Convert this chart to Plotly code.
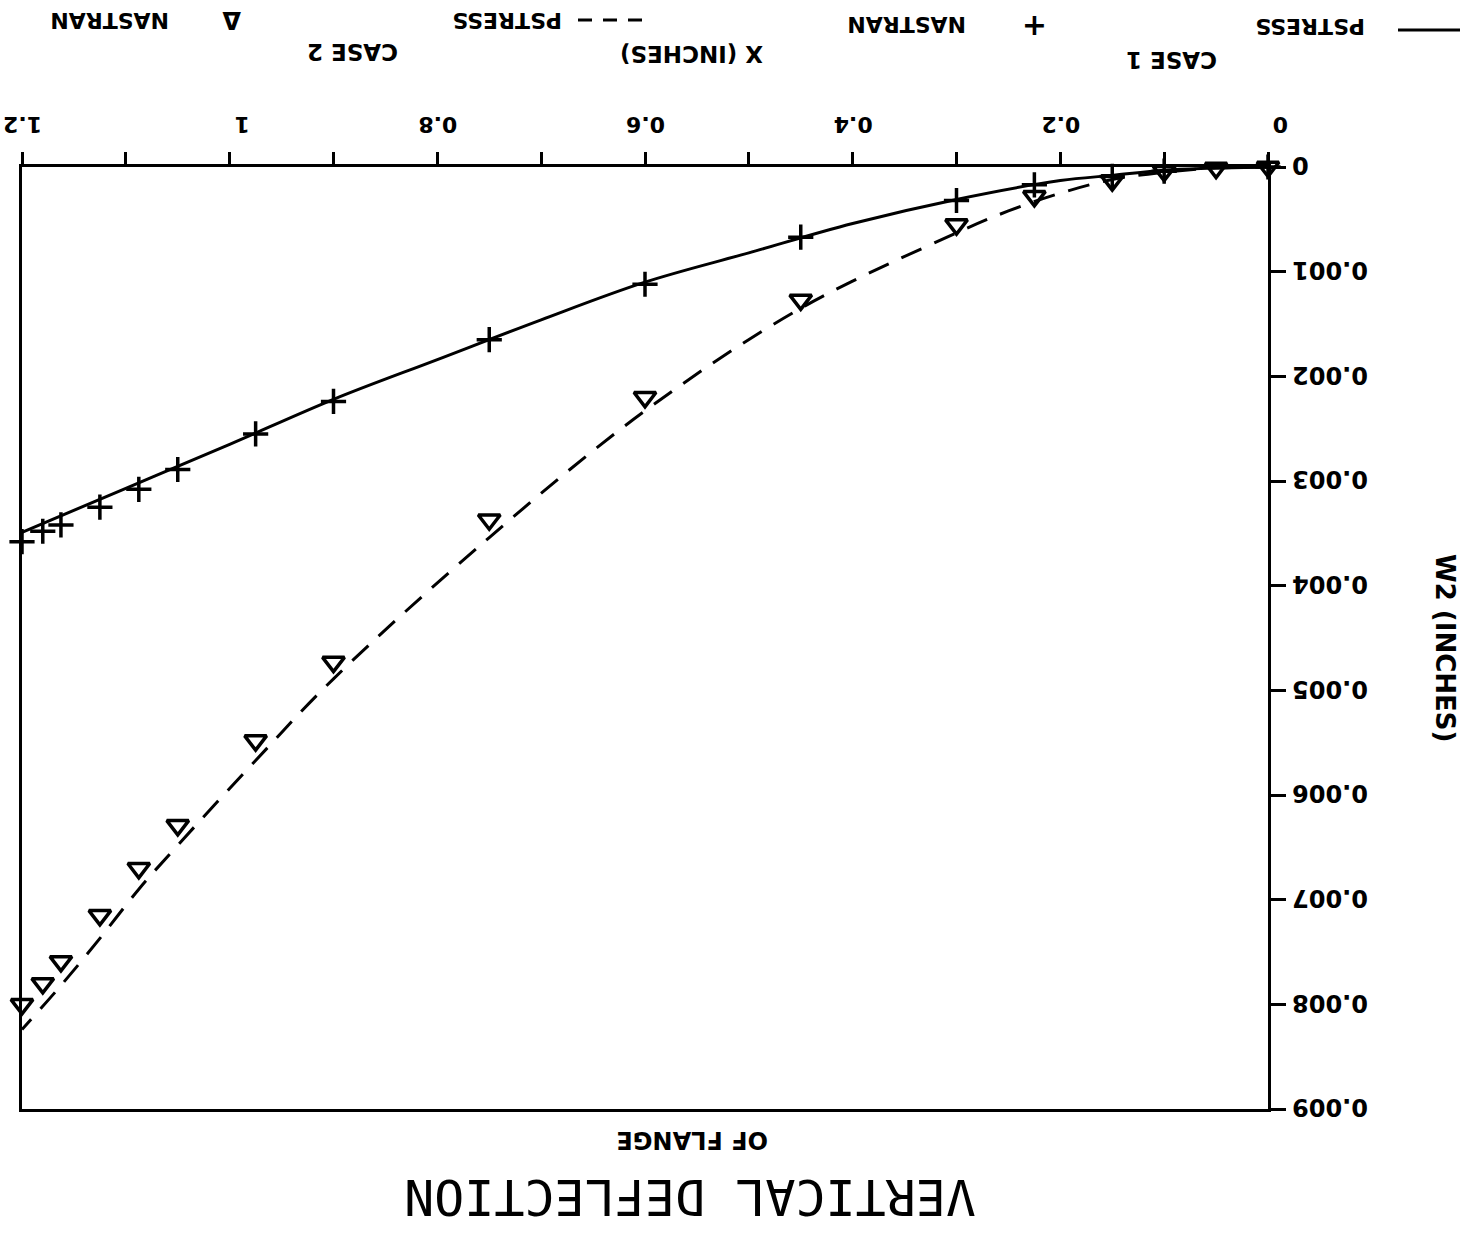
import plotly.graph_objects as go

# ---- data ----
# CASE 1, PSTRESS (solid line)
c1_line_x = [0, 0.05, 0.1, 0.15, 0.2, 0.3, 0.4, 0.5, 0.6, 0.7, 0.8, 0.9, 1.0, 1.1, 1.2]
c1_line_w = [0, 0.00001, 0.00003, 0.00008, 0.00013, 0.00031, 0.00054, 0.00082, 0.00110,
             0.00146, 0.00184, 0.00222, 0.00265, 0.00307, 0.00349]
# CASE 1, NASTRAN (+)
c1_nas_x = [0, 0.1, 0.15, 0.225, 0.3, 0.45, 0.6, 0.75, 0.9, 0.975, 1.05, 1.0875, 1.125, 1.1625, 1.18, 1.2]
c1_nas_w = [0, 0.00004, 0.00009, 0.00017, 0.00032, 0.00067, 0.00112, 0.00165, 0.00224, 0.00255,
            0.00289, 0.00308, 0.00325, 0.00342, 0.00348, 0.00358]
# CASE 2, PSTRESS (dashed line)
c2_line_x = [0, 0.05, 0.1, 0.15, 0.2, 0.25, 0.3, 0.45, 0.6, 0.75, 0.9, 0.975, 1.05, 1.0875, 1.125, 1.1625, 1.2]
c2_line_w = [0, 0.00001, 0.00005, 0.00012, 0.00025, 0.00042, 0.00063, 0.00135, 0.00233, 0.00354,
             0.00489, 0.00567, 0.00648, 0.00690, 0.00737, 0.00782, 0.00824]
# CASE 2, NASTRAN (triangles)
c2_nas_x = [0, 0.05, 0.1, 0.15, 0.225, 0.3, 0.45, 0.6, 0.75, 0.9, 0.975, 1.05, 1.0875, 1.125, 1.1625, 1.18, 1.2]
c2_nas_w = [0, 0.00001, 0.00004, 0.00013, 0.00028, 0.00055, 0.00127, 0.00220, 0.00337, 0.00473,
            0.00548, 0.00629, 0.00670, 0.00715, 0.00759, 0.00780, 0.00800]

x_tickvals = [0, 0.2, 0.4, 0.6, 0.8, 1.0, 1.2]
x_ticktext = ["0", "0.2", "0.4", "0.6", "0.8", "1", "1.2"]
y_tickvals = [0, 0.001, 0.002, 0.003, 0.004, 0.005, 0.006, 0.007, 0.008, 0.009]
y_ticktext = ["0", "0.001", "0.002", "0.003", "0.004", "0.005", "0.006", "0.007", "0.008", "0.009"]

# ---- figure ----
W, H = 1465, 1234
L, R, T, B = 22, 1268, 167, 1109

def px(x):
    return (x - L) / (R - L)

def py(y):
    return (B - y) / (B - T)

fig = go.Figure()
fig.add_trace(go.Scatter(x=c1_line_x, y=c1_line_w, mode="lines", line=dict(color="black", width=3, shape="spline"),
                         name="PSTRESS case 1", cliponaxis=False))
fig.add_trace(go.Scatter(x=c2_line_x, y=c2_line_w, mode="lines",
                         line=dict(color="black", width=3, dash="22px,14px", shape="spline"),
                         name="PSTRESS case 2", cliponaxis=False))
fig.add_trace(go.Scatter(x=c1_nas_x, y=c1_nas_w, mode="markers",
                         marker=dict(symbol="cross-thin-open", size=18, color="black",
                                     line=dict(color="black", width=3.5)),
                         name="NASTRAN case 1", cliponaxis=False))
fig.add_trace(go.Scatter(x=c2_nas_x, y=c2_nas_w, mode="markers",
                         marker=dict(symbol="triangle-down-open", size=19, color="black",
                                     line=dict(color="black", width=3.5)),
                         name="NASTRAN case 2", cliponaxis=False))

fig.update_xaxes(range=[1.2, 0], side="top", tickvals=x_tickvals, ticktext=x_ticktext,
                 ticks="outside", ticklen=12, tickwidth=2.5, tickcolor="black",
                 minor=dict(ticks="outside", ticklen=12, tickwidth=2.5, tickcolor="black", dtick=0.1, tick0=0),
                 showline=True, linewidth=2.5, linecolor="black", mirror=True,
                 showgrid=False, zeroline=False, tickangle=180, automargin=False,
                 tickfont=dict(family="DejaVu Sans", size=22, color="black", weight="bold"),
                 ticklabelstandoff=4, ticklabelshift=-20, ticklabeloverflow="allow")
fig.update_yaxes(range=[0.009, 0], side="right", tickvals=y_tickvals, ticktext=y_ticktext,
                 ticks="outside", ticklen=15, tickwidth=2.5, tickcolor="black",
                 showline=True, linewidth=2.5, linecolor="black", mirror=True,
                 showgrid=False, zeroline=False, tickangle=180, automargin=False,
                 ticklabelposition="inside", ticklabelstandoff=-22, ticklabelshift=-6,
                 ticklabeloverflow="allow",
                 tickfont=dict(family="DejaVu Sans", size=24, color="black", weight="bold"))

def ann(text, x, y, size, angle=180, family="DejaVu Sans", weight="bold"):
    fig.add_annotation(text=text, x=px(x), y=py(y), xref="paper", yref="paper",
                       showarrow=False, textangle=angle, xanchor="center", yanchor="middle",
                       font=dict(family=family, size=size, color="black", weight=weight))

# legend (upside down, as in the reference)
ann("PSTRESS", 1310, 26, 22)
ann("+", 1035, 26, 30)
ann("NASTRAN", 907, 24, 22)
ann("PSTRESS", 507, 21, 22)
ann("Δ", 232, 20, 24)
ann("NASTRAN", 110, 21, 22)
ann("CASE 1", 1172, 60, 23)
ann("X (INCHES)", 692, 54, 23)
ann("CASE 2", 352, 52, 23)
ann("W2 (INCHES)", 1445, 648, 26, angle=90)
ann("OF FLANGE", 692, 1140, 24)
ann("VERTICAL DEFLECTION", 690, 1197, 50, family="DejaVu Sans Mono", weight="normal")

# legend line samples
fig.add_shape(type="line", xref="paper", yref="paper", x0=px(1398), x1=px(1460), y0=py(30), y1=py(30),
              line=dict(color="black", width=3))
fig.add_shape(type="line", xref="paper", yref="paper", x0=px(578), x1=px(642), y0=py(20), y1=py(20),
              line=dict(color="black", width=3, dash="14px,11px"))

fig.update_layout(width=W, height=H, margin=dict(l=L, r=W - R, t=T, b=H - B, autoexpand=False),
                  plot_bgcolor="white", paper_bgcolor="white", showlegend=False)

fig.write_html("out.html")
